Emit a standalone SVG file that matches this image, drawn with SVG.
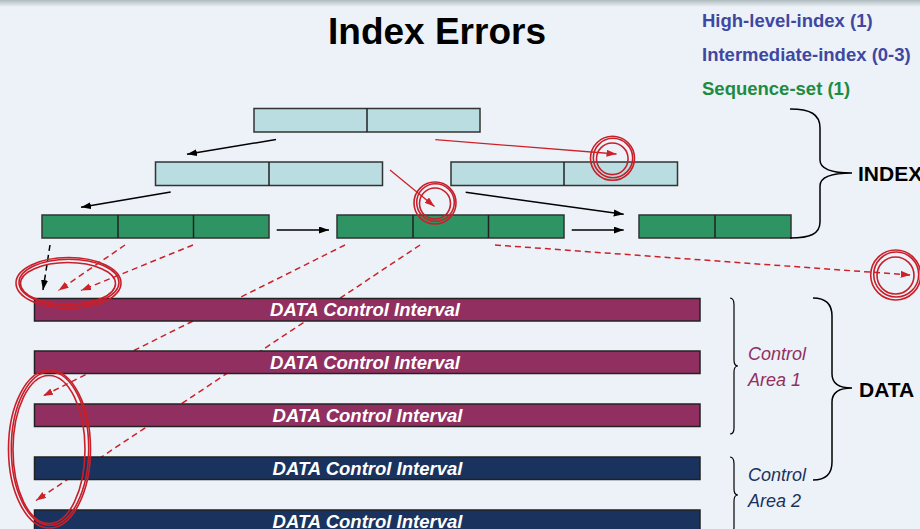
<svg xmlns="http://www.w3.org/2000/svg" width="920" height="529" viewBox="0 0 920 529">
<defs>
<linearGradient id="topband" x1="0" y1="0" x2="0" y2="1">
<stop offset="0" stop-color="#AEBBBE"/>
<stop offset="1" stop-color="#EDF2F9"/>
</linearGradient>
<marker id="ab" markerUnits="userSpaceOnUse" markerWidth="11" markerHeight="8" refX="10" refY="3.5" orient="auto"><path d="M0,0 L10,3.5 L0,7 z" fill="#000"/></marker>
<marker id="ar" markerUnits="userSpaceOnUse" markerWidth="11" markerHeight="8" refX="10" refY="3.5" orient="auto"><path d="M0,0 L10,3.5 L0,7 z" fill="#CC2229"/></marker>
<style>
.hi{fill:#B9DDE1;stroke:#333;stroke-width:1.5}
.seq{fill:#2E9464;stroke:#333;stroke-width:1.5}
.div{stroke:#222;stroke-width:1.5}
.ca1{fill:#913060;stroke:#222;stroke-width:1.5}
.ca2{fill:#1A335E;stroke:#222;stroke-width:1.5}
.dt{font-family:"Liberation Sans",Arial,sans-serif;font-size:18.5px;font-weight:bold;font-style:italic;fill:#fff;text-anchor:middle}
.lbl{font-family:"Liberation Sans",Arial,sans-serif;font-size:18.5px;font-weight:bold}
.big{font-family:"Liberation Sans",Arial,sans-serif;font-size:21px;font-weight:bold;fill:#000}
.cal{font-family:"Liberation Sans",Arial,sans-serif;font-size:18px;font-style:italic}
.blk{stroke:#000;stroke-width:1.5;fill:none;marker-end:url(#ab)}
.bd{stroke:#000;stroke-width:1.5;fill:none;stroke-dasharray:6 4;marker-end:url(#ab)}
.rs{stroke:#CC2229;stroke-width:1.3;fill:none;marker-end:url(#ar)}
.rd{stroke:#CC2229;stroke-width:1.5;fill:none;stroke-dasharray:6 4;marker-end:url(#ar)}
.ring{stroke:#C8202A;stroke-width:1.6;fill:none}
.brace{stroke:#000;stroke-width:1.5;fill:none}
.brace2{stroke:#000;stroke-width:1.2;fill:none}
</style>
</defs>
<rect x="0" y="0" width="920" height="529" fill="#EDF2F9"/>
<rect x="0" y="0" width="920" height="7" fill="url(#topband)"/>

<g id="title"><text x="437" y="43.5" text-anchor="middle" font-family="Liberation Sans, Arial, sans-serif" font-size="37" font-weight="bold" fill="#000">Index Errors</text></g>

<g id="legend">
<text class="lbl" x="702" y="26.5" fill="#3F48A0">High-level-index (1)</text>
<text class="lbl" x="702" y="61" fill="#3F48A0">Intermediate-index (0-3)</text>
<text class="lbl" x="702" y="94.5" fill="#1E8B43">Sequence-set (1)</text>
</g>

<g id="high-index"><rect class="hi" x="254" y="108.5" width="226" height="23.5"/><line class="div" x1="367" y1="108.5" x2="367" y2="132"/></g>
<g id="inter-index-1"><rect class="hi" x="155.5" y="162" width="227" height="23.5"/><line class="div" x1="269" y1="162" x2="269" y2="185.5"/></g>
<g id="inter-index-2"><rect class="hi" x="451" y="162" width="226.5" height="23.5"/><line class="div" x1="564" y1="162" x2="564" y2="185.5"/></g>
<g id="seq-1"><rect class="seq" x="42" y="215" width="227" height="23"/><line class="div" x1="118" y1="215" x2="118" y2="238"/><line class="div" x1="193.5" y1="215" x2="193.5" y2="238"/></g>
<g id="seq-2"><rect class="seq" x="337" y="215" width="227" height="23"/><line class="div" x1="413" y1="215" x2="413" y2="238"/><line class="div" x1="488.5" y1="215" x2="488.5" y2="238"/></g>
<g id="seq-3"><rect class="seq" x="639" y="215" width="152" height="23"/><line class="div" x1="715" y1="215" x2="715" y2="238"/></g>

<g id="connectors">
<line class="blk" x1="276" y1="139.5" x2="187" y2="154.3"/>
<line class="blk" x1="170.7" y1="192" x2="81" y2="207.3"/>
<line class="blk" x1="276.7" y1="230" x2="329" y2="230"/>
<line class="blk" x1="571.7" y1="230" x2="623.7" y2="230"/>
<line class="blk" x1="465.7" y1="192.3" x2="623.7" y2="214.3"/>
<line class="rs" x1="435.3" y1="139.7" x2="616.5" y2="154"/>
<line class="rs" x1="390" y1="170" x2="434.5" y2="206.5"/>
<line class="bd" x1="50" y1="245" x2="43" y2="290"/>
<line class="rd" x1="125" y1="245" x2="58.5" y2="290.5"/>
<line class="rd" x1="193" y1="245" x2="81" y2="290.5"/>
<line class="rd" x1="345" y1="245" x2="43" y2="396"/>
<line class="rd" x1="420" y1="245" x2="36" y2="500.5"/>
<line class="rd" x1="495" y1="245" x2="910.7" y2="275"/>
</g>

<g id="data-ci-1"><rect class="ca1" x="34.5" y="298.5" width="665.5" height="22.5"/><text class="dt" x="365" y="316">DATA Control Interval</text></g>
<g id="data-ci-2"><rect class="ca1" x="34.5" y="351" width="665.5" height="22.5"/><text class="dt" x="365" y="368.5">DATA Control Interval</text></g>
<g id="data-ci-3"><rect class="ca1" x="34.5" y="404" width="665.5" height="22.5"/><text class="dt" x="367.5" y="421.5">DATA Control Interval</text></g>
<g id="data-ci-4"><rect class="ca2" x="34.5" y="457" width="665.5" height="22.5"/><text class="dt" x="367.5" y="474.5">DATA Control Interval</text></g>
<g id="data-ci-5"><rect class="ca2" x="34.5" y="510" width="665.5" height="22.5"/><text class="dt" x="367.5" y="527.5">DATA Control Interval</text></g>

<g id="index-brace"><path class="brace" d="M790,109 C810,109 820,114 820,128 L820,160 C820,168 828,173 852,173 C828,173 820,178 820,186 L820,222 C820,234 810,238 790,238"/><text class="big" x="858" y="180.5">INDEX</text></g>
<g id="data-brace"><path class="brace" d="M813,298 C826,298 832,304 832,316 L832,374 C832,383 838,388 852,388 C838,388 832,393 832,402 L832,462 C832,474 826,480 813,480"/><text class="big" x="859" y="396.5">DATA</text></g>
<g id="ca1-brace"><path class="brace2" d="M730,298 C733,298 734,300 734,305 L734,360 C734,364 735,366 738,366 C735,366 734,368 734,372 L734,428 C734,432 733,434 730,434"/><text class="cal" x="748" y="360" fill="#913060">Control</text><text class="cal" x="748" y="386" fill="#913060">Area 1</text></g>
<g id="ca2-brace"><path class="brace2" d="M730,457 C733,457 734,459 734,464 L734,489 C734,493 735,495 738,495 C735,495 734,497 734,501 L734,527 C734,531 733,533 730,533"/><text class="cal" x="748" y="480.5" fill="#1A335E">Control</text><text class="cal" x="748" y="506.5" fill="#1A335E">Area 2</text></g>

<g id="error-marks">
<circle class="ring" cx="435" cy="203" r="21"/>
<circle class="ring" cx="435.5" cy="202.5" r="18.8"/>
<circle class="ring" cx="435" cy="203.5" r="15.5"/>
<circle class="ring" cx="612.5" cy="158.3" r="22"/>
<circle class="ring" cx="613" cy="158" r="19.7"/>
<circle class="ring" cx="612.3" cy="158.8" r="15.8"/>
<circle class="ring" cx="895.7" cy="275" r="25"/>
<circle class="ring" cx="896.2" cy="274.5" r="22.5"/>
<circle class="ring" cx="895.5" cy="275.5" r="18.5"/>
<ellipse class="ring" cx="68.5" cy="283" rx="52.5" ry="25.5"/>
<ellipse class="ring" cx="69" cy="282.5" rx="50" ry="23.3"/>
<ellipse class="ring" cx="68" cy="283.5" rx="47.5" ry="21"/>
<ellipse class="ring" cx="49.5" cy="449" rx="41" ry="79"/>
<ellipse class="ring" cx="50" cy="448.5" rx="38.7" ry="76.8"/>
<ellipse class="ring" cx="49" cy="449.5" rx="36" ry="74"/>
</g>
</svg>
